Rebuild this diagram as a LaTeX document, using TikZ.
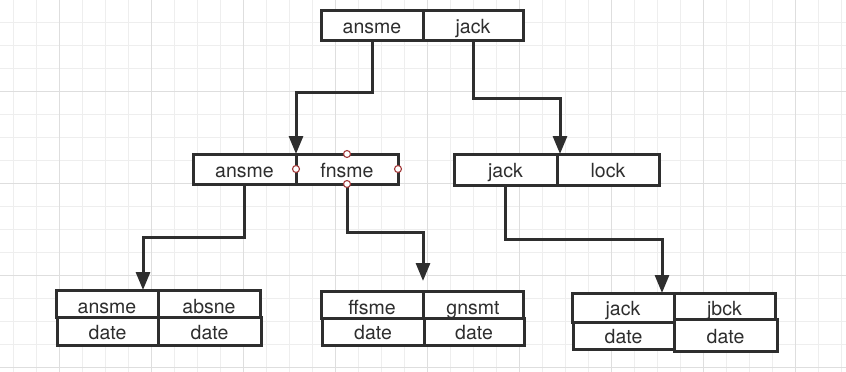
\documentclass[tikz,border=0pt]{standalone}
\usepackage{fontspec}
\setmainfont{TeX Gyre Heros}
\usetikzlibrary{arrows.meta}
\definecolor{sen}{HTML}{2E2E2E}
\definecolor{masu}{HTML}{EEEEEE}
\definecolor{futomasu}{HTML}{DEDEDE}
\definecolor{waku}{HTML}{A33A3A}
\tikzset{
	cell/.style 2 args= {draw= sen, fill= white, line width= 3pt, inner sep= 0pt, outer sep= 0pt, minimum width= #1, minimum height= #2, text height= 16pt, text depth= 0pt, text= sen, font= \fontsize{19.5}{22}\selectfont},
	yajirushi/.style= {draw= sen, line width= 3pt, -{Triangle[length= 18pt, width= 14pt]}},
	handle/.style= {draw= waku, fill= white, line width= 1.1pt}
}
\begin{document}
\begin{tikzpicture}[x= 1pt, y= -1pt]
	\useasboundingbox (0, 0) rectangle (846, 372);
	\fill[white](0, 0) rectangle (846, 372); %背景
	\foreach \i in {0, ..., 36} \draw[masu, line width= 1pt](13.5+23*\i, 0)-- (13.5+23*\i, 372); %方眼 縦
	\foreach \j in {0, ..., 15} \draw[masu, line width= 1pt](0, 22.3+23*\j)-- (846, 22.3+23*\j); %方眼 横
	\foreach \i in {0, ..., 8} \draw[futomasu, line width= 1pt](59.5+92*\i, 0)-- (59.5+92*\i, 372); %太線 縦
	\foreach \j in {0, ..., 3} \draw[futomasu, line width= 1pt](0, 91.3+92*\j)-- (846, 91.3+92*\j); %太線 横

	\node[cell= {102pt}{30pt}] (tL) at (372, 25) {ansme}; %根
	\node[cell= {100pt}{30pt}] (tR) at (473, 25) {jack};

	\node[cell= {103pt}{30pt}] (mLL) at (244.5, 169) {ansme}; %中段 左
	\node[cell= {102pt}{30pt}] (mLR) at (347, 169) {fnsme};
	\node[cell= {103pt}{31pt}] (mRL) at (505.5, 169.5) {jack}; %中段 右
	\node[cell= {102pt}{31pt}] (mRR) at (608, 169.5) {lock};

	\node[cell= {102pt}{27pt}, text height= 19pt] (bLa) at (107, 303.5) {ansme}; %葉 左
	\node[cell= {102pt}{27pt}, text height= 19pt] (bLb) at (209, 303.5) {absne};
	\node[cell= {101pt}{28pt}] (bLc) at (107.5, 331) {date};
	\node[cell= {103pt}{28pt}] (bLd) at (209.5, 331) {date};

	\node[cell= {102pt}{27pt}, text height= 19pt] (bMa) at (372, 304.5) {ffsme}; %葉 中
	\node[cell= {100pt}{27pt}, text height= 19pt] (bMb) at (473, 304.5) {gnsmt};
	\node[cell= {102pt}{27pt}] (bMc) at (373, 331.5) {date};
	\node[cell= {100pt}{27pt}] (bMd) at (474, 331.5) {date};

	\node[cell= {102pt}{29pt}] (bRa) at (623, 307.5) {jack}; %葉 右
	\node[cell= {101pt}{26pt}, text height= 18pt] (bRb) at (724.5, 306) {jbck};
	\node[cell= {101pt}{27pt}] (bRc) at (623.5, 335.5) {date};
	\node[cell= {103pt}{32pt}] (bRd) at (725.5, 335) {date};

	\coordinate (irBL) at (143, 290);
	\coordinate (irBR) at (662, 293);
	\draw[yajirushi](tL.south)-- ++(0, 52)-| (mLL.north east); %根- 中段左
	\draw[yajirushi](tR.south)-- ++(0, 58)-| ([xshift= 3pt]mRL.north east); %根- 中段右
	\draw[yajirushi](mLL.south)-- ++(0, 53)-| (irBL); %中段左- 葉左
	\draw[yajirushi, shorten >= 10pt](mLR.south)-- ++(0, 48)-| (bMa.north east); %中段左- 葉中
	\draw[yajirushi](mRL.south)-- ++(0, 54)-| (irBR); %中段右- 葉右

	\filldraw[handle](mLR.north) circle [radius= 3.5]; %選択ハンドル
	\filldraw[handle](mLR.west) circle [radius= 3.5];
	\filldraw[handle](mLR.east) circle [radius= 3.5];
	\filldraw[handle](mLR.south) circle [radius= 3.5];
\end{tikzpicture}
\end{document}
